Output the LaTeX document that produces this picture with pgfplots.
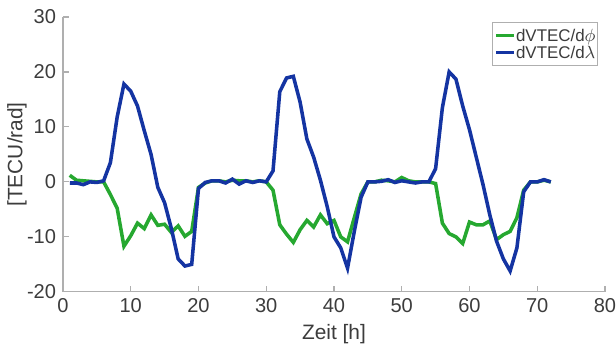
\documentclass[border=0pt]{standalone}
\usepackage{pgfplots}
\pgfplotsset{compat=1.18}
\usepackage{pgfplotstable}
\usepackage{fontspec}
\setmainfont{Liberation Sans}
\definecolor{cgreen}{RGB}{38,168,48}
\definecolor{cblue}{RGB}{20,52,162}
\definecolor{axgray}{RGB}{175,175,175}
\definecolor{txtgray}{RGB}{60,60,60}
\pgfplotstableread{
x g b
1 1.2 -0.2
2 0.3 -0.2
3 0.2 -0.5
4 0.1 0
5 0 -0.1
6 0 0.2
7 -2.3 3.5
8 -4.8 11.8
9 -11.7 17.8
10 -9.8 16.5
11 -7.5 13.8
12 -8.5 9.3
13 -6.0 5.0
14 -7.9 -1.0
15 -7.7 -3.8
16 -9.2 -8.5
17 -8.0 -14.0
18 -9.9 -15.3
19 -9.0 -15.0
20 -1.0 -1.2
21 -0.2 -0.1
22 0.2 0.2
23 0.2 0.2
24 0 -0.2
25 0.3 0.5
26 0.2 -0.4
27 0.2 0.2
28 0 -0.1
29 0.2 0.2
30 0 0
31 -1.5 2.0
32 -7.8 16.4
33 -9.5 18.9
34 -11.0 19.2
35 -8.7 14.5
36 -7.0 7.8
37 -8.2 4.5
38 -6.0 0.3
39 -7.6 -4.5
40 -7.0 -10.0
41 -10.0 -12.0
42 -10.9 -15.7
43 -6.5 -9.0
44 -2.2 -2.8
45 0 0
46 0 0
47 0.3 0.1
48 0.2 0.4
49 0 -0.1
50 0.8 0.2
51 0.2 0
52 0 -0.2
53 0 0
54 0 0
55 -0.3 2.4
56 -7.5 13.5
57 -9.4 20.0
58 -10.0 18.7
59 -11.2 13.8
60 -7.3 9.5
61 -7.8 4.5
62 -7.8 -0.5
63 -7.1 -6.0
64 -10.5 -10.8
65 -9.6 -14.0
66 -9.0 -16.2
67 -6.5 -12.0
68 -1.5 -1.8
69 0 0
70 0 0
71 0.3 0.4
72 0 0
}\datatable
\begin{document}
\begin{tikzpicture}
\begin{axis}[
  scale only axis,
  width=275.4pt, height=139.7pt,
  xmin=0, xmax=80, ymin=-20, ymax=30,
  xtick={0,10,...,80}, ytick={-20,-10,...,30},
  axis x line*=bottom, axis y line*=left,
  axis line style={axgray, line width=0.6pt},
  tick style={axgray, line width=0.6pt},
  tick align=inside,
  major tick length=3pt,
  ticklabel style={font=\fontsize{10.2}{12}\selectfont, text=txtgray},
  /pgf/number format/assume math mode=true,
  xlabel={Zeit [h]}, ylabel={[TECU/rad]},
  label style={font=\fontsize{10.6}{12}\selectfont, text=txtgray},
  xlabel style={yshift=1pt},
  ylabel style={at={(rel axis cs:-0.066,0.5)}, anchor=south, inner sep=0pt},
  legend style={at={(0.987,0.982)}, anchor=north east, draw=axgray,
    font=\fontsize{8.6}{10}\selectfont, text=txtgray, inner xsep=1pt, inner ysep=1.5pt,
    row sep=-1.5pt, cells={anchor=west}},
  legend image code/.code={\draw[#1] (0cm,0cm) -- (0.32cm,0cm);},
  legend cell align=left,
]
\addplot[cgreen, line width=1.8pt] table[x=x, y=g] {\datatable};
\addlegendentry[text depth=0pt, inner xsep=0pt]{dVTEC/d$\phi$}
\addplot[cblue, line width=1.8pt] table[x=x, y=b] {\datatable};
\addlegendentry[text depth=0pt, inner xsep=0pt]{dVTEC/d$\lambda$}
\coordinate (bl) at (rel axis cs:0,0);
\coordinate (tr) at (rel axis cs:1,1);
\end{axis}
\path (bl) ++(-32pt,-27.9pt) coordinate (p1);
\path (tr) ++(5.6pt,8.6pt) coordinate (p2);
\pgfresetboundingbox
\useasboundingbox (p1) rectangle (p2);
\end{tikzpicture}
\end{document}
